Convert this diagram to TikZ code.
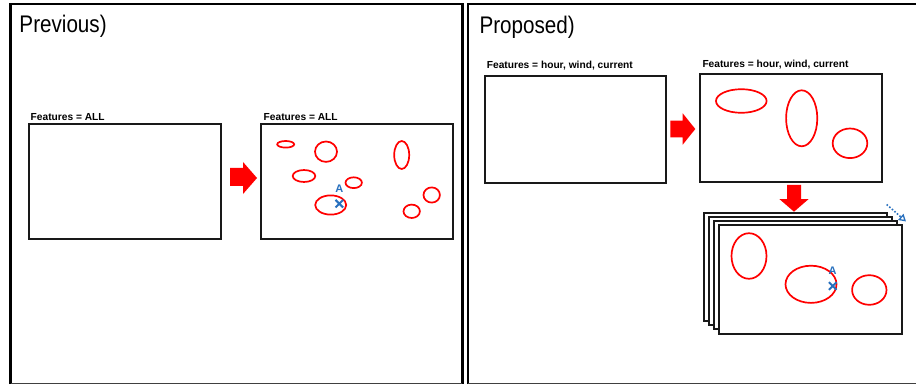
\documentclass[tikz,border=0pt]{standalone}
\usepackage{fontspec}
\setmainfont{Liberation Sans}
\newfontfamily\titlefont[FakeStretch=0.86]{Liberation Sans}
\usetikzlibrary{arrows.meta}
\definecolor{xblue}{RGB}{40,112,190}
\definecolor{boxline}{RGB}{25,25,25}
\begin{document}
\begin{tikzpicture}[x=1pt,y=-1pt,
  panel/.style={line width=2.6pt,black},
  panelbottom/.style={line width=0.9pt,black!75},
  box/.style={draw=boxline, line width=2pt, fill=white, inner sep=0pt, outer sep=0pt, anchor=north west},
  blob/.style={draw=red, line width=1.7pt},
  blockarrow/.style={fill=red, draw=none},
  lbl/.style={font=\fontsize{10.2}{12}\selectfont\bfseries, anchor=base west, inner sep=0pt},
  ttl/.style={font=\titlefont\fontsize{24}{28}\selectfont, anchor=base west, inner sep=0pt},
  ptlbl/.style={font=\fontsize{11}{12}\selectfont\bfseries, text=xblue, inner sep=0pt},
  xmk/.style={draw=xblue, line width=2pt},
]
\useasboundingbox (0,0) rectangle (916,385);
\fill[white] (0,0) rectangle (916,385);

% panels
\draw[panel] (10.5,384) -- (10.5,4) -- (462.3,4) -- (462.3,384);
\draw[panelbottom] (10.5,383.6) -- (462.3,383.6);
\draw[panel] (468,384) -- (468,4) -- (918,4);
\draw[panelbottom] (468,383.6) -- (916,383.6);

\node[ttl] (t1) at (19.3,32.3) {Previous)};
\node[ttl] (t2) at (479.3,34) {Proposed)};

% ---- Previous ----
\node[box, minimum width=192pt, minimum height=115pt] (L1) at (29,124.3) {};
\node[box, minimum width=192pt, minimum height=115pt] (L2) at (261,124.3) {};
\node[lbl] (lL1) at (30.5,120.7) {Features = ALL};
\node[lbl] (lL2) at (263.5,120.7) {Features = ALL};

\fill[blockarrow] (230,168) -- (243,168) -- (243,162) -- (257,178) -- (243,194) -- (243,186) -- (230,186) -- cycle;

\draw[blob] (285.7,144.3) ellipse [x radius=8.5pt, y radius=3.3pt];
\draw[blob] (326,151.7) ellipse [x radius=11pt, y radius=10.2pt];
\draw[blob] (401.7,155) ellipse [x radius=7.5pt, y radius=14pt];
\draw[blob] (304,176) ellipse [x radius=11.3pt, y radius=6pt];
\draw[blob] (353.7,182.7) ellipse [x radius=8.2pt, y radius=5.4pt];
\draw[blob] (330.7,205) ellipse [x radius=15.5pt, y radius=9.6pt];
\draw[blob] (431.7,195) ellipse [x radius=8.2pt, y radius=7.6pt];
\draw[blob] (411.7,211.3) ellipse [x radius=8.2pt, y radius=6.7pt];

\node[ptlbl] (A1) at (339.3,188.5) {A};
\coordinate (X1) at (339.3,203.7);
\draw[xmk] (X1) +(-3.8,-3.8) -- +(3.8,3.8) +(-3.8,3.8) -- +(3.8,-3.8);

% ---- Proposed ----
\node[box, minimum width=181pt, minimum height=107.6pt] (R1) at (485,75.7) {};
\node[box, minimum width=181.4pt, minimum height=108.3pt] (R2) at (700.3,74) {};
\node[lbl] (lR1) at (486.7,68.3) {Features = hour, wind, current};
\node[lbl] (lR2) at (702.3,67.7) {Features = hour, wind, current};

\fill[blockarrow] (670.3,120.7) -- (682.7,120.7) -- (682.7,113.3) -- (695.3,129) -- (682.7,144.7) -- (682.7,137.3) -- (670.3,137.3) -- cycle;

\draw[blob] (741.3,101) ellipse [x radius=25.3pt, y radius=11.8pt];
\draw[blob] (801.7,118.3) ellipse [x radius=15.6pt, y radius=28pt];
\draw[blob] (850,143.3) ellipse [x radius=17.3pt, y radius=14.8pt];

\fill[blockarrow] (787,185) -- (801,185) -- (801,199) -- (808.7,199) -- (794,211.7) -- (779.3,199) -- (787,199) -- cycle;

% stack
\node[box, minimum width=182.4pt, minimum height=108.5pt] (S1) at (704.3,212.5) {};
\node[box, minimum width=182.4pt, minimum height=108.5pt] (S2) at (709.3,216.7) {};
\node[box, minimum width=182.4pt, minimum height=108.5pt] (S3) at (714.3,220.8) {};
\node[box, minimum width=182.4pt, minimum height=108.5pt] (S4) at (719.3,225) {};

\draw[blob] (749,256) ellipse [x radius=17.5pt, y radius=22.8pt];
\draw[blob] (811,284.3) ellipse [x radius=25.5pt, y radius=18.6pt];
\draw[blob] (869.3,290) ellipse [x radius=17.2pt, y radius=14.8pt];

\node[ptlbl] (A2) at (832.7,270.5) {A};
\coordinate (X2) at (832.7,286);
\draw[xmk] (X2) +(-3.8,-3.8) -- +(3.8,3.8) +(-3.8,3.8) -- +(3.8,-3.8);

\coordinate (d1) at (886.7,204.5);
\coordinate (d2) at (906,221.5);
\draw[xblue, line width=1.6pt, dash pattern=on 1.6pt off 1.8pt, -{Triangle[open, length=7pt, width=8pt, line width=1.3pt]}] (d1) -- (d2);
\end{tikzpicture}
\end{document}
